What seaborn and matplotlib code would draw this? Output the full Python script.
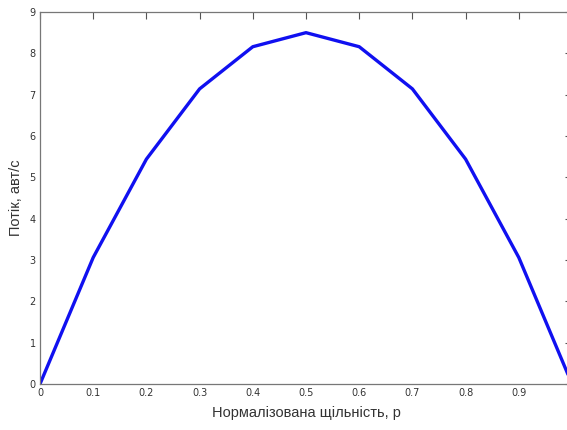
import matplotlib
matplotlib.use("Agg")
import matplotlib.pyplot as plt
import seaborn as sns
import pandas as pd

density = [0.0, 0.1, 0.2, 0.3, 0.4, 0.5, 0.6, 0.7, 0.8, 0.9, 1.0]
flow = [0.0, 3.06, 5.44, 7.14, 8.16, 8.5, 8.16, 7.14, 5.44, 3.06, 0.0]
x_ticks = [0, 0.1, 0.2, 0.3, 0.4, 0.5, 0.6, 0.7, 0.8, 0.9]
x_tick_labels = ["0", "0.1", "0.2", "0.3", "0.4", "0.5", "0.6", "0.7", "0.8", "0.9"]
y_ticks = [0, 1, 2, 3, 4, 5, 6, 7, 8, 9]
x_label = "Нормалізована щільність, р"
y_label = "Потік, авт/с"

sns.set_style("white")
plt.rcParams["font.family"] = ["Liberation Sans", "DejaVu Sans"]

df = pd.DataFrame({"density": density, "flow": flow})

fig = plt.figure(figsize=(5.67, 4.3), dpi=100)
ax = fig.add_axes([40 / 567, 46 / 430, 532 / 567, 372 / 430])
sns.lineplot(data=df, x="density", y="flow", ax=ax, color="#1010f0", linewidth=2.4)

ax.set_xlim(0, 1)
ax.set_ylim(0, 9)
ax.set_xticks(x_ticks)
ax.set_xticklabels(x_tick_labels, fontsize=7, family=["Liberation Sans Narrow", "DejaVu Sans"])
ax.set_yticks(y_ticks)
ax.set_yticklabels([str(v) for v in y_ticks], fontsize=7, family=["Liberation Sans Narrow", "DejaVu Sans"])
ax.tick_params(direction="in", length=5, width=0.8, color="#555555", top=True, right=True,
               labelcolor="#333333", pad=3)
for s in ax.spines.values():
    s.set_color("#777777")
    s.set_linewidth(0.9)
ax.set_xlabel(x_label, fontsize=10.5, color="#333333", labelpad=6)
ax.set_ylabel(y_label, fontsize=10.5, color="#333333", labelpad=5)

fig.savefig("out.png", dpi=100)
